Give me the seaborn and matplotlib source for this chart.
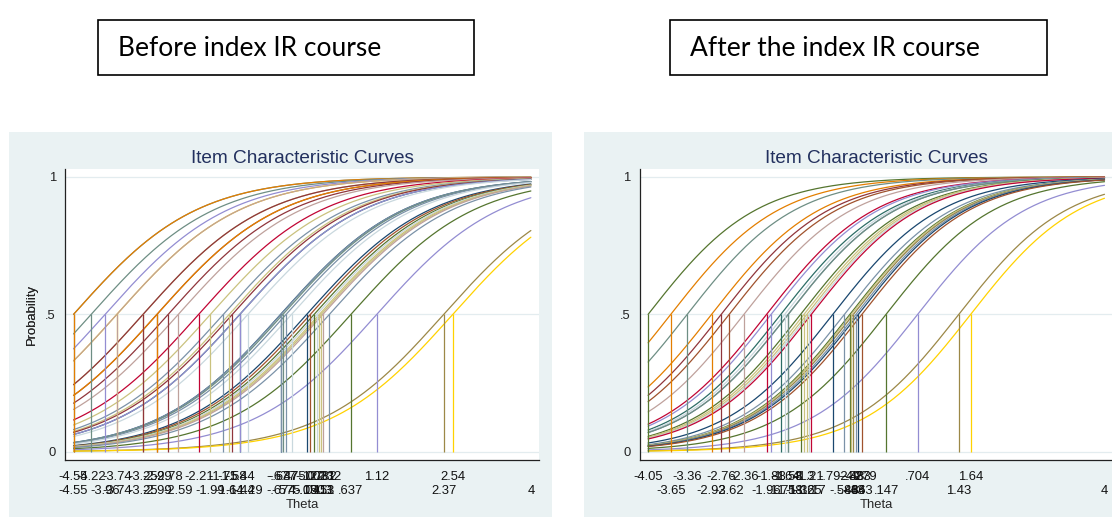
import matplotlib
matplotlib.use("Agg")
import matplotlib.pyplot as plt
from matplotlib.patches import Rectangle
import numpy as np
import pandas as pd
import seaborn as sns

# item locations (theta where P = .5), in the sorted order used on the axis
before_b = [-4.55, -4.55, -4.22, -3.96, -3.74, -3.74, -3.25, -3.25, -2.99, -2.99,
            -2.78, -2.59, -2.21, -1.99, -1.75, -1.64, -1.58, -1.44, -1.44, -1.29,
            -0.677, -0.674, -0.637, -0.575, -0.475, -0.19, -0.122, -0.0503, -0.0031,
            0.0451, 0.0782, 0.113, 0.232, 0.637, 1.12, 2.37, 2.54]
before_slope = 0.87

after_b = [-4.05, -3.65, -3.36, -2.93, -2.76, -2.62, -2.36, -1.96, -1.88, -1.71,
           -1.64, -1.58, -1.58, -1.36, -1.30, -1.25, -1.21, -1.17, -0.792, -0.588,
           -0.49, -0.466, -0.43, -0.43, -0.383, -0.343, -0.279, 0.147, 0.704, 1.43, 1.64]
after_slope = 1.05

theta_max = 4
panel_titles = ["Before index IR course", "After the index IR course"]

# stata s2color pens
STATA = {
    "navy": "#1A476F", "maroon": "#90353B", "forest_green": "#55752F",
    "dkorange": "#E37E00", "teal": "#6E8E84", "cranberry": "#C10534",
    "lavender": "#938DD2", "khaki": "#CAC27E", "sienna": "#A0522D",
    "emidblue": "#7B92A8", "emerald": "#2D6D66", "brown": "#9C8847",
    "erose": "#BFA19C", "gold": "#FFD200", "bluishgray": "#C9D8DE",
}
before_colors = ["teal", "dkorange", "teal", "lavender", "gold", "erose", "khaki", "maroon",
                 "sienna", "dkorange", "maroon", "erose", "cranberry", "khaki", "emidblue",
                 "khaki", "maroon", "emerald", "lavender", "bluishgray", "navy", "emidblue",
                 "teal", "emidblue", "bluishgray", "navy", "sienna", "forest_green",
                 "bluishgray", "khaki", "khaki", "erose", "emidblue", "forest_green",
                 "lavender", "brown", "gold"]
after_colors = ["forest_green", "dkorange", "teal", "dkorange", "maroon", "sienna", "erose",
                "cranberry", "lavender", "emerald", "bluishgray", "emidblue", "teal",
                "forest_green", "khaki", "khaki", "bluishgray", "cranberry", "navy",
                "emidblue", "forest_green", "khaki", "bluishgray", "brown", "emidblue",
                "navy", "sienna", "forest_green", "lavender", "brown", "gold"]

BG = "#EAF2F3"
W, H = 1112, 518
FS = 9.4


def stata_fmt(v):
    s = f"{v:.3g}"
    if s.startswith("0."):
        s = s[1:]
    elif s.startswith("-0."):
        s = "-" + s[2:]
    return s


def draw_icc(fig, ax_px, bg_px, b_values, slope, color_names):
    # stata graph region
    x0, x1, y0, y1 = bg_px
    fig.add_artist(Rectangle((x0 / W, 1 - y1 / H), (x1 - x0) / W, (y1 - y0) / H,
                             transform=fig.transFigure, facecolor=BG, edgecolor="none", zorder=0))
    left, right, top, bottom = ax_px
    ax = fig.add_axes([left / W, 1 - bottom / H, (right - left) / W, (bottom - top) / H])
    ax.set_facecolor("white")

    lo = min(b_values)
    theta = np.linspace(lo, theta_max, 300)
    rows = []
    for i, b in enumerate(b_values):
        p = 1 / (1 + np.exp(-slope * (theta - b)))
        rows.append(pd.DataFrame({"item": i, "theta": theta, "prob": p}))
    df = pd.concat(rows)
    palette = [STATA[c] for c in color_names]

    sns.lineplot(data=df, x="theta", y="prob", hue="item", palette=palette,
                 legend=False, estimator=None, sort=False, lw=0.9, ax=ax)
    ax.vlines(b_values, 0, 0.5, colors=palette, lw=0.9)

    pad = 0.0178 * (theta_max - lo)
    ax.set_xlim(lo - pad, theta_max + pad)
    ax.set_ylim(-0.0302, 1.028)

    ax.set_yticks([0, 0.5, 1])
    ax.set_yticklabels(["0", ".5", "1"])
    ax.yaxis.grid(True, color="#E3ECEF", lw=0.9)
    ax.set_axisbelow(True)

    ticks = list(b_values) + [theta_max]
    ax.set_xticks(ticks)
    ax.set_xticklabels([""] * len(ticks))
    for i, t in enumerate(ticks):
        off = -12.0 if i % 2 == 0 else -22.2
        ax.annotate(stata_fmt(t), xy=(t, 0), xycoords=("data", "axes fraction"),
                    xytext=(0, off), textcoords="offset points",
                    ha="center", va="center", fontsize=FS, color="#111111")

    ax.tick_params(axis="both", direction="out", length=4.3, width=0.8,
                   colors="#222222", labelsize=FS)
    ax.tick_params(axis="y", pad=2.5)
    for s in ["top", "right"]:
        ax.spines[s].set_visible(False)
    for s in ["left", "bottom"]:
        ax.spines[s].set_color("#222222")
        ax.spines[s].set_linewidth(0.9)

    ax.set_xlabel("Theta", fontsize=FS, va="center")
    ax.xaxis.set_label_coords(0.5, -(505.5 - bottom) / (bottom - top))
    ax.set_ylabel("Probability", fontsize=FS, va="center")
    ax.yaxis.set_label_coords(-(left - 31.5) / (right - left), 0.5)
    ax.text(0.5, 1 + (top - 158.5) / (bottom - top), "Item Characteristic Curves",
            transform=ax.transAxes, ha="center", va="center", fontsize=13.7, color="#22305E")
    return ax


def title_box(fig, box_px, text_x, text):
    x0, x1, y0, y1 = box_px
    fig.add_artist(Rectangle((x0 / W, 1 - y1 / H), (x1 - x0) / W, (y1 - y0) / H,
                             transform=fig.transFigure, facecolor="white",
                             edgecolor="black", lw=1.2))
    fig.text(text_x / W, 1 - ((y0 + y1) / 2 + 1) / H, text, ha="left", va="center",
             fontsize=19, family="Lato", color="black")


sns.set_theme(style="white")
plt.rcParams["font.family"] = ["Liberation Sans", "DejaVu Sans"]

fig = plt.figure(figsize=(W / 100, H / 100), dpi=100)
fig.patch.set_facecolor("white")

draw_icc(fig, (65.4, 539, 169.3, 460), (9, 552, 131.7, 516.7),
         before_b, before_slope, before_colors)
draw_icc(fig, (640, 1112.6, 169.3, 460), (584, 1130, 131.7, 516.7),
         after_b, after_slope, after_colors)

title_box(fig, (98, 474, 20, 75), 118, panel_titles[0])
title_box(fig, (670, 1047, 20, 75), 690, panel_titles[1])

fig.savefig("out.png", dpi=100)
plt.close(fig)
